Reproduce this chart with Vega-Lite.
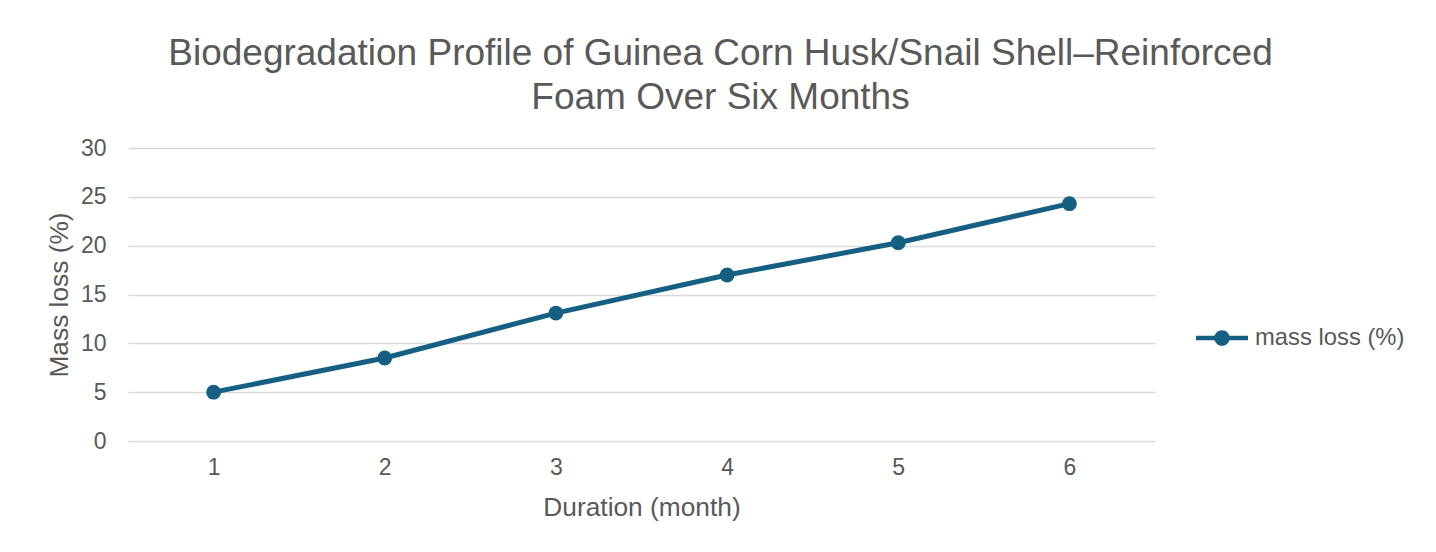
{
  "$schema": "https://vega.github.io/schema/vega-lite/v6.json",
  "width": 1027,
  "height": 293,
  "autosize": {"type": "none"},
  "padding": {"left": 128, "top": 148, "right": 281, "bottom": 111},
  "background": "white",
  "title": {
    "text": ["Biodegradation Profile of Guinea Corn Husk/Snail Shell–Reinforced", "Foam Over Six Months"],
    "font": "Liberation Sans",
    "fontSize": 37,
    "fontWeight": "normal",
    "color": "#595959",
    "anchor": "middle",
    "dx": 79,
    "lineHeight": 44,
    "offset": 20
  },
  "data": {
    "values": [
      {"month": "1", "mass_loss": 5.0},
      {"month": "2", "mass_loss": 8.5},
      {"month": "3", "mass_loss": 13.1},
      {"month": "4", "mass_loss": 17.0},
      {"month": "5", "mass_loss": 20.3},
      {"month": "6", "mass_loss": 24.3}
    ]
  },
  "mark": {"type": "line", "strokeWidth": 5, "point": {"filled": true, "size": 220, "opacity": 1}},
  "encoding": {
    "x": {
      "field": "month",
      "type": "ordinal",
      "sort": null,
      "scale": {"type": "point", "padding": 0.5},
      "title": "Duration (month)",
      "axis": {
        "labelAngle": 0,
        "labelFont": "Liberation Sans",
        "labelFontSize": 23,
        "labelColor": "#595959",
        "labelPadding": 15,
        "ticks": false,
        "domain": false,
        "grid": false,
        "titleFont": "Liberation Sans",
        "titleFontSize": 26.3,
        "titleFontWeight": "normal",
        "titleColor": "#595959",
        "titlePadding": 15
      }
    },
    "y": {
      "field": "mass_loss",
      "type": "quantitative",
      "scale": {"domain": [0, 30], "nice": false},
      "title": "Mass loss (%)",
      "axis": {
        "values": [0, 5, 10, 15, 20, 25, 30],
        "labelFont": "Liberation Sans",
        "labelFontSize": 23,
        "labelColor": "#595959",
        "labelPadding": 22,
        "ticks": false,
        "domain": false,
        "grid": true,
        "gridColor": "#d9d9d9",
        "gridWidth": 1.5,
        "gridOpacity": 1,
        "titleFont": "Liberation Sans",
        "titleFontSize": 26.3,
        "titleFontWeight": "normal",
        "titleColor": "#595959",
        "titlePadding": 7
      }
    },
    "color": {
      "datum": "mass loss (%)",
      "scale": {"range": ["#156082"]},
      "legend": {
        "title": null,
        "orient": "none",
        "legendX": 1068,
        "legendY": 164,
        "symbolType": "M-1,-0.09 L1,-0.09 L1,0.09 L-1,0.09 Z M-0.3,0 A0.3,0.3 0 1,1 0.3,0 A0.3,0.3 0 1,1 -0.3,0 Z",
        "symbolSize": 2704,
        "symbolFillColor": "#156082",
        "symbolStrokeColor": "#156082",
        "symbolStrokeWidth": 0,
        "symbolOpacity": 1,
        "labelFont": "Liberation Sans",
        "labelFontSize": 23.8,
        "labelColor": "#595959",
        "labelOffset": 7
      }
    }
  },
  "config": {
    "view": {"stroke": null}
  }
}
